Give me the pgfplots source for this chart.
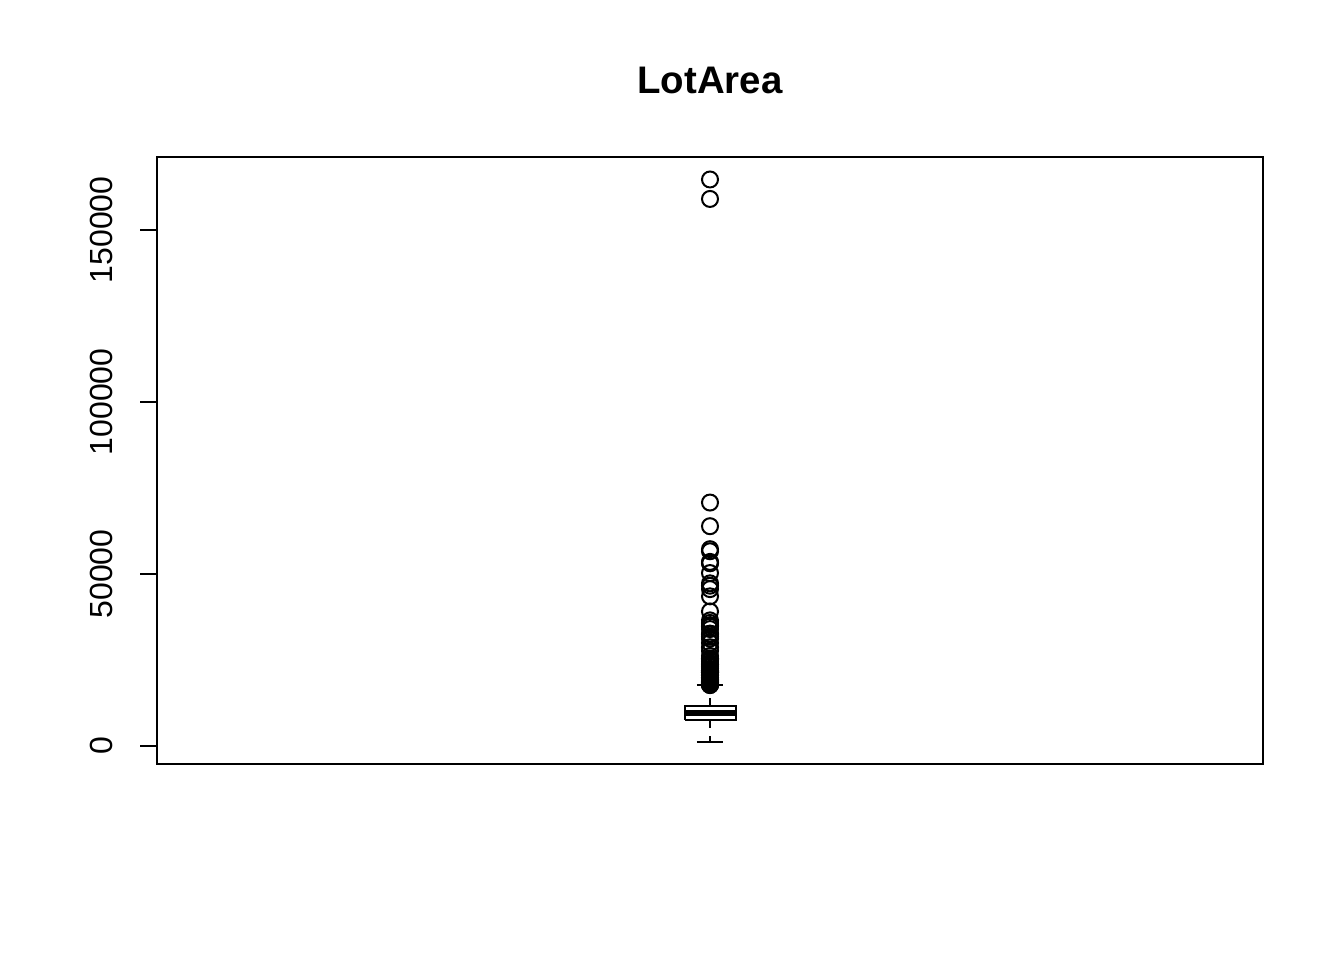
\documentclass[border=0pt]{standalone}
\usepackage{pgfplots}
\pgfplotsset{compat=1.18}
\usepackage{fontspec}
\setmainfont{Liberation Sans}
\pgfplotstableread{
x v
0.5 164660
0.5 159000
0.5 70761
0.5 63887
0.5 57200
0.5 56600
0.5 53504
0.5 53227
0.5 53107
0.5 50271
0.5 47280
0.5 46589
0.5 45600
0.5 43500
0.5 39104
0.5 36500
0.5 35760
0.5 35133
0.5 34650
0.5 33983
0.5 32668
0.5 32463
0.5 31770
0.5 31220
0.5 29959
0.5 28698
0.5 27650
0.5 26178
0.5 25419
0.5 25339
0.5 25286
0.5 25095
0.5 24682
0.5 24090
0.5 23730
0.5 23595
0.5 23257
0.5 22950
0.5 22420
0.5 21930
0.5 21872
0.5 21780
0.5 21750
0.5 21695
0.5 21535
0.5 21453
0.5 21384
0.5 21360
0.5 21286
0.5 20896
0.5 20781
0.5 20544
0.5 20431
0.5 20000
0.5 19900
0.5 19690
0.5 19378
0.5 19296
0.5 19138
0.5 18890
0.5 18800
0.5 18450
0.5 18386
0.5 18160
0.5 18030
0.5 17920
0.5 17871
0.5 17755
0.5 17700
}\outliers
\begin{document}
\begin{tikzpicture}
\useasboundingbox (0,0) rectangle (672pt,480pt);
\begin{axis}[
  at={(78.5pt,98pt)}, anchor=south west,
  scale only axis, width=553pt, height=303.5pt,
  xmin=0, xmax=1, ymin=-5234, ymax=171194,
  xtick=\empty,
  scaled y ticks=false,
  ytick={0,50000,100000,150000},
  yticklabels={0,50000,100000,150000},
  ytick pos=left, tick align=outside,
  major tick length=8.5pt,
  every tick/.style={black, line width=1pt},
  axis line style={line width=1pt},
  yticklabel style={rotate=90, anchor=south, inner sep=0pt, yshift=13.5pt, font=\fontsize{16}{19}\selectfont},
  /pgf/number format/assume math mode=true,
  title={LotArea},
  title style={font=\bfseries\fontsize{19.2}{23}\selectfont, anchor=center, at={(0.5,1)}, yshift=32.5pt},
  clip=false,
]
% box
\addplot[black, line width=1pt, mark=none] coordinates {(0.47695,7553.5) (0.52305,7553.5) (0.52305,11601.5) (0.47695,11601.5) (0.47695,7553.5)};
% median
\addplot[black, line width=3pt, mark=none] coordinates {(0.47695,9478.5) (0.52305,9478.5)};
% whiskers
\addplot[black, line width=1pt, dash pattern=on 4pt off 4pt, mark=none] coordinates {(0.5,11601.5) (0.5,17671)};
\addplot[black, line width=1pt, dash pattern=on 4pt off 4pt, mark=none] coordinates {(0.5,7553.5) (0.5,1300)};
% caps
\addplot[black, line width=1pt, mark=none] coordinates {(0.4882,17671) (0.5118,17671)};
\addplot[black, line width=1pt, mark=none] coordinates {(0.4882,1300) (0.5118,1300)};
% outliers
\addplot[only marks, mark=o, mark size=4pt, mark options={solid, line width=1pt, black}] table[x=x, y=v] {\outliers};
\end{axis}
\end{tikzpicture}
\end{document}
